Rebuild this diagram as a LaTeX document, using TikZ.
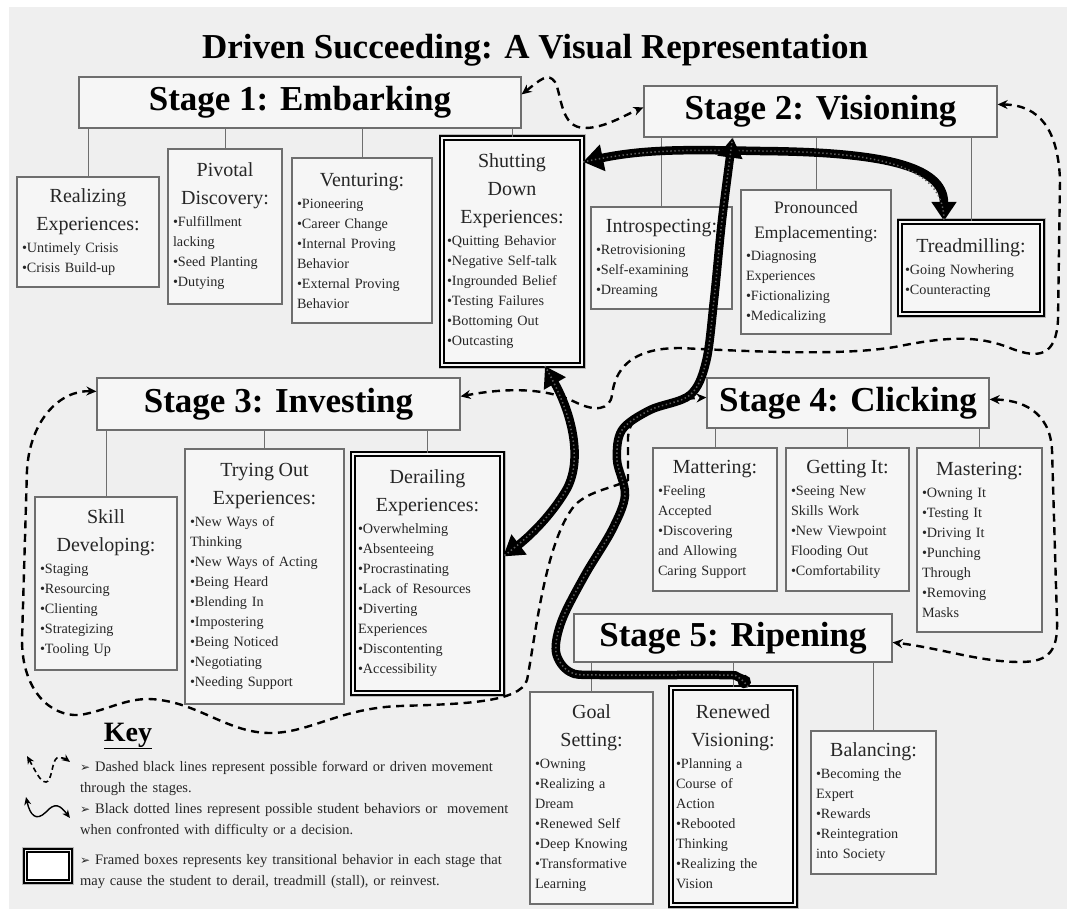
\documentclass[tikz,border=0pt]{standalone}
\usepackage{fontspec}
\setmainfont{Liberation Serif}
\newfontfamily\symfont{DejaVu Sans}
\usetikzlibrary{arrows.meta}

\definecolor{bggray}{RGB}{239,239,239}
\definecolor{boxfill}{RGB}{246,246,246}
\definecolor{boxline}{RGB}{110,110,110}
\definecolor{inkgray}{RGB}{38,38,38}
\definecolor{ropedot}{RGB}{95,95,95}

\newcommand{\hdfont}{\fontsize{20}{28}\selectfont}
\newcommand{\itfont}{\fontsize{14.2}{20}\selectfont}
\newcommand{\hd}[1]{\makebox[\linewidth]{#1}\\}
\newcommand{\heading}[1]{{\hdfont#1\vspace{2pt}}}
\newcommand{\arr}{{\symfont\fontsize{12}{12}\selectfont ➢}}

\begin{document}
\begin{tikzpicture}[
    x=1pt, y=-1pt,
    stage/.style={draw=boxline, fill=boxfill, line width=1.2pt, inner sep=0pt,
        font=\fontsize{35}{40}\selectfont\bfseries},
    dbox/.style 2 args={draw=boxline, fill=boxfill, line width=1.2pt, font=\itfont,
        text=inkgray, align=left, inner xsep=5pt, inner ysep=0pt,
        minimum width=#1, text width=#1-10, minimum height=#2},
    framed/.style={draw=black, line width=2.2pt, double=boxfill, double distance=1.2pt,
        preaction={draw=gray!55, line width=7pt}},
    stub/.style={draw=boxline, line width=1pt},
    dsh/.style={line width=2.4pt, dash pattern=on 8pt off 5.5pt,
        {Stealth[length=10pt,width=9pt]}-{Stealth[length=10pt,width=9pt]}},
    rope/.style={line width=8.5pt, draw=black,
        postaction={draw=ropedot, line width=1.5pt, dash pattern=on 1.4pt off 2.6pt, -}},
    keytext/.style={font=\fontsize{14.5}{21}\selectfont, text=inkgray, align=left,
        text width=440, inner sep=0pt, anchor=base west}
]
\useasboundingbox (0,0) rectangle (1067,909);
\fill[white] (0,0) rectangle (1067,909);
\fill[bggray] (9,7) rectangle (1067,909);

% title
\node[font=\fontsize{35}{40}\selectfont\bfseries] (title) at (535,50) {Driven Succeeding: A Visual Representation};

% stages
\node[stage, minimum width=442, minimum height=51] (s1) at (300,102.5) {Stage 1: Embarking};
\node[stage, minimum width=353, minimum height=51] (s2) at (820.5,111.5) {Stage 2: Visioning};
\node[stage, minimum width=363, minimum height=52] (s3) at (278.5,404) {Stage 3: Investing};
\node[stage, minimum width=282, minimum height=50] (s4) at (848,403) {Stage 4: Clicking};
\node[stage, minimum width=318, minimum height=48] (s5) at (733,638) {Stage 5: Ripening};

% stage 1 boxes
\node[dbox={142}{110}] (real) at (88,232) {\heading{\hd{Realizing}\hd{Experiences:}}
•Untimely Crisis\\
•Crisis Build-up};
\node[dbox={114}{155}] (pivot) at (225,226.5) {\heading{\hd{Pivotal}\hd{Discovery:}}
•Fulfillment\\
lacking\\
•Seed Planting\\
•Dutying};
\node[dbox={140}{165}] (vent) at (362,240.5) {\heading{\hd{Venturing:}}
•Pioneering\\
•Career Change\\
•Internal Proving\\
Behavior\\
•External Proving\\
Behavior};
\node[dbox={140}{227}, framed] (shut) at (512,251.5) {\heading{\hd{Shutting}\hd{Down}\hd{Experiences:}}
•Quitting Behavior\\
•Negative Self-talk\\
•Ingrounded Belief\\
•Testing Failures\\
•Bottoming Out\\
•Outcasting};

% stage 2 boxes
\node[dbox={141}{102}] (intro) at (661.5,258) {\heading{\hd{Introspecting:}}
•Retrovisioning\\
•Self-examining\\
•Dreaming};
\node[dbox={150}{144}] (pron) at (816,262) {{\fontsize{17.5}{25}\selectfont\hd{Pronounced}\hd{Emplacementing:}\vspace{2pt}}
•Diagnosing\\
Experiences\\
•Fictionalizing\\
•Medicalizing};
\node[dbox={142}{92}, framed] (tread) at (971,268) {\heading{\hd{Treadmilling:}}
•Going Nowhering\\
•Counteracting};

% stage 3 boxes
\node[dbox={142}{173}] (skill) at (106,583.5) {\heading{\hd{Skill}\hd{Developing:}}
•Staging\\
•Resourcing\\
•Clienting\\
•Strategizing\\
•Tooling Up};
\node[dbox={159}{255}] (tryout) at (264.5,576.5) {\heading{\hd{Trying Out}\hd{Experiences:}}
•New Ways of\\
Thinking\\
•New Ways of Acting\\
•Being Heard\\
•Blending In\\
•Impostering\\
•Being Noticed\\
•Negotiating\\
•Needing Support};
\node[dbox={149}{239}, framed] (derail) at (427.5,573.5) {\heading{\hd{Derailing}\hd{Experiences:}}
•Overwhelming\\
•Absenteeing\\
•Procrastinating\\
•Lack of Resources\\
•Diverting\\
Experiences\\
•Discontenting\\
•Accessibility};

% stage 4 boxes
\node[dbox={124}{143}] (matter) at (715,519.5) {\heading{\hd{Mattering:}}
•Feeling\\
Accepted\\
•Discovering\\
and Allowing\\
Caring Support};
\node[dbox={123}{143}] (getit) at (847.5,519.5) {\heading{\hd{Getting It:}}
•Seeing New\\
Skills Work\\
•New Viewpoint\\
Flooding Out\\
•Comfortability};
\node[dbox={125}{184}] (master) at (979.5,540) {\heading{\hd{Mastering:}}
•Owning It\\
•Testing It\\
•Driving It\\
•Punching\\
Through\\
•Removing\\
Masks};

% stage 5 boxes
\node[dbox={123}{212}] (goal) at (591.5,798) {\heading{\hd{Goal}\hd{Setting:}}
•Owning\\
•Realizing a\\
Dream\\
•Renewed Self\\
•Deep Knowing\\
•Transformative\\
Learning};
\node[dbox={124}{217}, framed] (renew) at (733,796.5) {\heading{\hd{Renewed}\hd{Visioning:}}
•Planning a\\
Course of\\
Action\\
•Rebooted\\
Thinking\\
•Realizing the\\
Vision};
\node[dbox={125}{143}] (balance) at (873.5,802.5) {\heading{\hd{Balancing:}}
•Becoming the\\
Expert\\
•Rewards\\
•Reintegration\\
into Society};

% stubs
\foreach \s/\c in {s1/real, s1/pivot, s1/vent, s1/shut, s2/intro, s2/pron, s2/tread,
    s3/skill, s3/tryout, s3/derail, s4/matter, s4/getit, s4/master,
    s5/goal, s5/renew, s5/balance}
  \draw[stub] (\c.north) -- (\c.north |- \s.south);

% dashed: driven movement
\draw[dsh] ([yshift=-18pt]s1.north east) .. controls (540,80) and (548,72) .. (555,82)
  .. controls (562,95) and (560,128) .. (585,128) .. controls (605,128) and (625,115) .. ([yshift=-22pt]s2.north west);
\draw[dsh] ([yshift=-19pt]s2.north east) .. controls (1040,105) and (1058,130) .. (1060,180)
  -- (1058,320) .. controls (1056,355) and (1040,360) .. (1010,348)
  .. controls (980,336) and (950,336) .. (900,346) .. controls (850,356) and (760,352) .. (680,348)
  .. controls (630,348) and (615,370) .. (612,395) .. controls (610,410) and (595,412) .. (575,402)
  .. controls (555,392) and (520,385) .. ([yshift=-19pt]s3.north east);
\draw[dsh] ([yshift=-14pt]s3.north west) .. controls (60,390) and (30,420) .. (27,470)
  -- (22,640) .. controls (22,690) and (50,717) .. (80,715) .. controls (110,710) and (130,695) .. (160,700)
  .. controls (200,705) and (230,733) .. (270,733) .. controls (310,733) and (340,708) .. (400,706)
  .. controls (460,704) and (520,703) .. (527,680) .. controls (535,640) and (545,540) .. (575,505)
  .. controls (590,490) and (615,488) .. (628,480) -- (628,437)
  .. controls (630,410) and (660,400) .. ([yshift=-20pt]s4.north west);
\draw[dsh] ([yshift=-22pt]s4.north east) .. controls (1020,400) and (1050,410) .. (1052,450)
  -- (1057,620) .. controls (1058,650) and (1050,662) .. (1020,662)
  .. controls (980,662) and (940,648) .. ([yshift=-29pt]s5.north east);

% thick: student behaviors
\draw[rope, {Triangle[length=20pt,width=26pt]}-{Triangle[length=19pt,width=24pt]}]
  ([yshift=-25pt]shut.north east) .. controls (650,148) and (700,150) .. (760,151)
  .. controls (880,152) and (944,165) .. ([xshift=-27pt]tread.north);
\draw[rope, {Triangle[length=20pt,width=24pt]}-{Triangle[length=20pt,width=24pt]}]
  ([xshift=33pt]shut.south) .. controls (570,410) and (585,460) .. (565,492)
  .. controls (548,520) and (525,540) .. ([yshift=17pt]derail.east);
\draw[rope, {Circle[length=13pt]}-{Triangle[length=20pt,width=24pt]}] plot[smooth, tension=0.55] coordinates {
  ([xshift=15pt]renew.north) (738,677) (720,675) (600,675) (570,672) (556,652) (562,620)
  (585,575) (612,530) (625,495) (617,460) (622,430) (650,410) (690,395) (706,362)
  (714,300) (722,220) (intro.north east |- s2.south)};

% key
\node[font=\fontsize{28}{30}\selectfont\bfseries, anchor=base, inner sep=0pt] (key) at (128,741) {\underline{Key}};
\draw[line width=1.6pt, dash pattern=on 5pt off 3.5pt,
  {Stealth[length=8pt,width=7pt]}-{Stealth[length=8pt,width=7pt]}]
  (27,756) .. controls (35,770) and (40,782) .. (46,782) .. controls (52,782) and (52,760) .. (57,758)
  .. controls (62,757) and (66,759) .. (70,762);
\draw[line width=1.4pt, {Stealth[length=8pt,width=7pt]}-{Stealth[length=8pt,width=7pt]}]
  (26,797) .. controls (30,815) and (36,822) .. (46,812) .. controls (55,802) and (60,805) .. (70,818);
\node[framed, fill=white, minimum width=45, minimum height=31, inner sep=0pt] (keybox) at (48,866) {};
\node[keytext] (k1) at (80,771) {\arr\ Dashed black lines represent possible forward or driven movement\\through the stages.};
\node[keytext] (k2) at (80,813) {\arr\ Black dotted lines represent possible student behaviors or\ \ movement\\when confronted with difficulty or a decision.};
\node[keytext] (k3) at (80,864) {\arr\ Framed boxes represents key transitional behavior in each stage that\\may cause the student to derail, treadmill (stall), or reinvest.};
\end{tikzpicture}
\end{document}
